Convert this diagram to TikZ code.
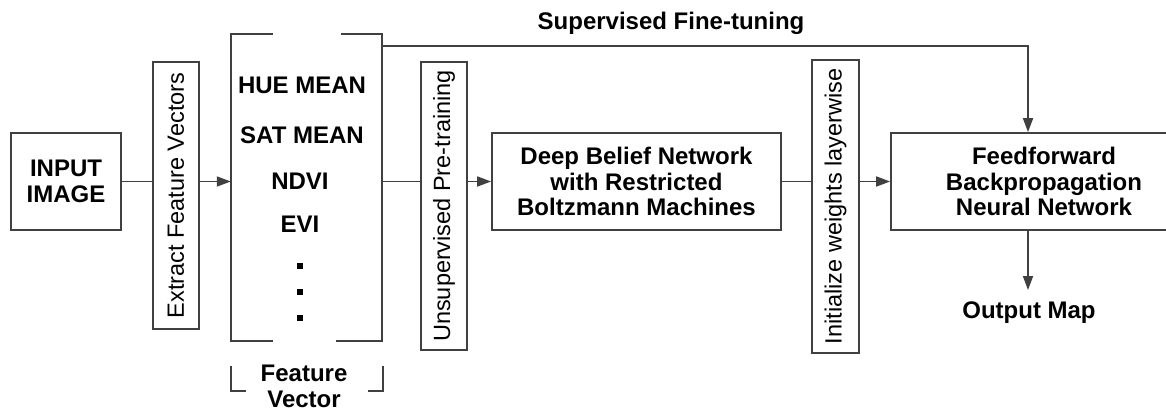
\documentclass[tikz,border=0pt]{standalone}
\usepackage{fontspec}
\setmainfont{Liberation Sans}
\usetikzlibrary{arrows.meta}
\begin{document}
\begin{tikzpicture}[x=1pt,y=-1pt,
  line/.style={draw=black!75, line width=1.7pt},
  box/.style={line, rectangle, inner sep=0pt, font=\fontsize{24}{25.5}\selectfont\bfseries, align=center},
  vbox/.style={line, rectangle, inner sep=0pt, rotate=90, font=\fontsize{23.5}{25}\selectfont},
  lbl/.style={font=\fontsize{24}{25.5}\selectfont\bfseries, inner sep=0pt, align=center},
  arr/.style={line, -{Triangle[length=14pt,width=10pt]}},
  dot/.style={fill=black, minimum size=6pt, inner sep=0pt, rectangle},
]
\useasboundingbox (0,0) rectangle (1166,412);
\clip (0,0) rectangle (1166,412);
% boxes
\node[box, minimum width=110pt, minimum height=97pt] (in) at (66,181.5) {INPUT\\IMAGE};
\node[vbox, minimum width=267pt, minimum height=46pt] (ext) at (176,195.5) {Extract Feature Vectors};
\node[rectangle, inner sep=0pt, minimum width=151pt, minimum height=307pt] (fv) at (306.5,187.5) {};
\node[vbox, minimum width=288pt, minimum height=46pt] (uns) at (444,206) {Unsupervised Pre-training};
\node[box, minimum width=289pt, minimum height=97pt] (dbn) at (636.5,181.5) {Deep Belief Network\\with Restricted\\Boltzmann Machines};
\node[vbox, minimum width=293pt, minimum height=47pt] (ini) at (835.5,206.5) {Initialize weights layerwise};
\node[box, minimum width=306pt, minimum height=97pt] (ff) at (1044,181.5) {Feedforward\\Backpropagation\\Neural Network};
% feature vector content
\node[lbl] (hue) at (302,85) {HUE MEAN};
\node[lbl] (sat) at (302,135) {SAT MEAN};
\node[lbl] (ndvi) at (300,181) {NDVI};
\node[lbl] (evi) at (300,224) {EVI};
\node[dot] (d1) at (300,266) {};
\node[dot] (d2) at (300,292) {};
\node[dot] (d3) at (300,318) {};
% bracket of feature vector
\draw[line] (fv.north west) ++(42,0) -- (fv.north west) -- (fv.south west) -- ++(42,0);
\draw[line] (fv.north east) ++(-41,0) -- (fv.north east) -- (fv.south east) -- ++(-46,0);
% feature vector label
\node[lbl] (fvl) at (304,386.5) {Feature\\Vector};
\draw[line] (231,366) -- (231,391) -- (246,391);
\draw[line] (368,391) -- (383,391) -- (383,366);
% connectors
\coordinate (top) at (1028,46);
\draw[line] (in.east) -- (in.east -| ext.north);
\draw[arr] (in.east -| ext.south) -- (in.east -| fv.west);
\draw[line] (in.east -| fv.east) -- (in.east -| uns.north);
\draw[arr] (in.east -| uns.south) -- (dbn.west);
\draw[line] (dbn.east) -- (dbn.east -| ini.north);
\draw[arr] (dbn.east -| ini.south) -- (ff.west);
\draw[arr] (top -| fv.east) -- (top) -- (top |- ff.north);
\node[lbl] (sft) at (671,23) {Supervised Fine-tuning};
\node[lbl, anchor=north, inner ysep=12pt] (out) at (1029,290) {Output Map};
\draw[arr] (top |- ff.south) -- (top |- out.north);
\end{tikzpicture}
\end{document}
